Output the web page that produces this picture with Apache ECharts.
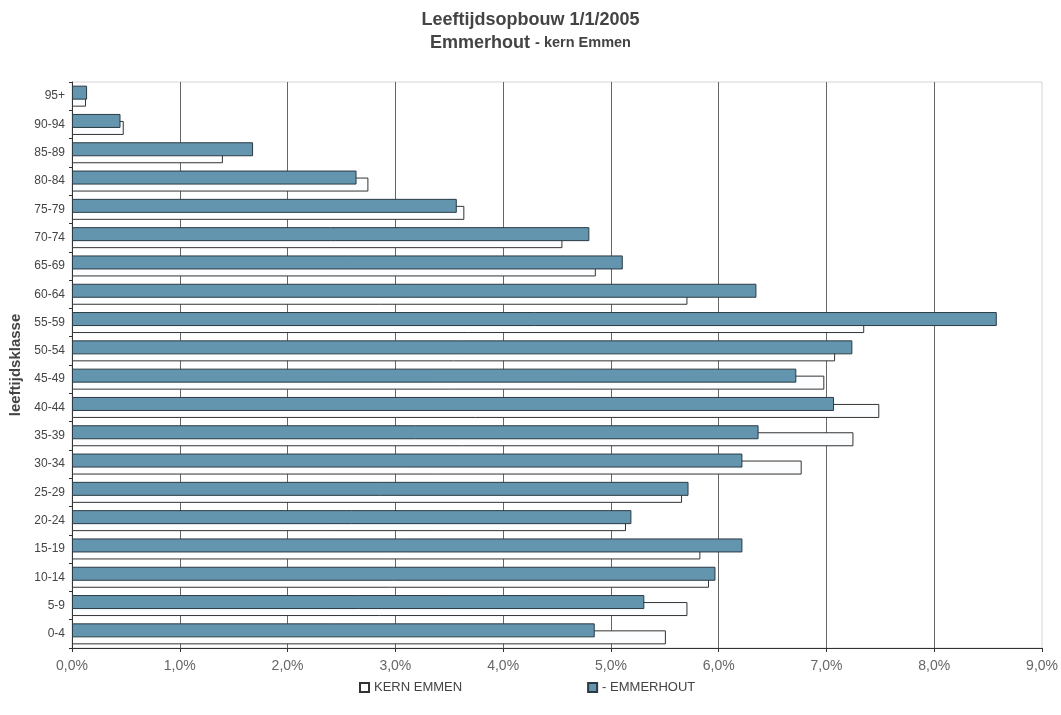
<!DOCTYPE html>
<html>
<head>
<meta charset="utf-8">
<script src="https://cdn.jsdelivr.net/npm/echarts@6/dist/echarts.min.js"></script>
<style>
html,body{margin:0;padding:0;background:#fff;}
#chart{width:1061px;height:715px;}
</style>
</head>
<body>
<div id="chart"></div>
<script>
// Age classes, bottom to top
const categories = ['0-4','5-9','10-14','15-19','20-24','25-29','30-34','35-39','40-44','45-49','50-54','55-59','60-64','65-69','70-74','75-79','80-84','85-89','90-94','95+'];
// Percent of population
const emmerhout = [4.85,5.31,5.97,6.22,5.19,5.72,6.22,6.37,7.07,6.72,7.24,8.58,6.35,5.11,4.80,3.57,2.64,1.68,0.45,0.14];
const kernEmmen = [5.51,5.71,5.91,5.83,5.14,5.66,6.77,7.25,7.49,6.98,7.08,7.35,5.71,4.86,4.55,3.64,2.75,1.40,0.48,0.13];
const seriesNames = ['KERN EMMEN','- EMMERHOUT'];
const titleText = 'Leeftijdsopbouw 1/1/2005';
const subTitleMain = 'Emmerhout';
const subTitleRest = '- kern Emmen';
const yAxisName = 'leeftijdsklasse';

const FONT = '"Liberation Sans", Arial, sans-serif';
const chart = echarts.init(document.getElementById('chart'), null, {renderer:'canvas'});
chart.setOption({
  animation:false,
  backgroundColor:'#fff',
  title:[
    {text:titleText,left:'center',top:6,textStyle:{fontFamily:FONT,fontWeight:'bold',fontSize:18,color:'#444'}},
    {text:'{a|'+subTitleMain+'} {b|'+subTitleRest+'}',left:'center',top:29,
     textStyle:{rich:{
       a:{fontFamily:FONT,fontWeight:'bold',fontSize:18,color:'#444'},
       b:{fontFamily:FONT,fontWeight:'bold',fontSize:14.5,color:'#444'}
     }}}
  ],
  legend:{
    left:354, top:676, itemGap:125, itemWidth:9, itemHeight:9, icon:'rect',
    data:seriesNames,
    textStyle:{fontFamily:FONT,fontSize:13,color:'#444'}
  },
  grid:{left:72,right:18,top:82,bottom:67,show:true,borderColor:'#d5d5d5',borderWidth:1},
  xAxis:{
    type:'value',min:0,max:9,interval:1,
    axisLine:{show:true,lineStyle:{color:'#333',width:1}},
    axisTick:{show:true,length:4,lineStyle:{color:'#333'}},
    axisLabel:{margin:11,fontFamily:FONT,fontSize:14,color:'#666',
      formatter:v=>v.toFixed(1).replace('.',',')+'%'},
    splitLine:{show:true,showMaxLine:false,lineStyle:{color:'#666',width:1}}
  },
  yAxis:{
    type:'category',data:categories,
    name:yAxisName,nameLocation:'middle',nameGap:45,nameRotate:90,
    nameTextStyle:{fontFamily:FONT,fontWeight:'bold',fontSize:15,color:'#444'},
    axisLine:{show:true,lineStyle:{color:'#333',width:1}},
    axisTick:{show:true,length:3,lineStyle:{color:'#333'}},
    axisLabel:{margin:7,fontFamily:FONT,fontSize:12,color:'#444'},
    splitLine:{show:false}
  },
  series:[
    {name:seriesNames[1],type:'bar',data:emmerhout,barWidth:14,barGap:'-50%',z:3,
     itemStyle:{color:'#6395ae',borderColor:'#2b3a44',borderWidth:1}},
    {name:seriesNames[0],type:'bar',data:kernEmmen,barWidth:14,z:2,
     itemStyle:{color:'#fbfdfe',borderColor:'#333',borderWidth:1}}
  ]
});
</script>
</body>
</html>
